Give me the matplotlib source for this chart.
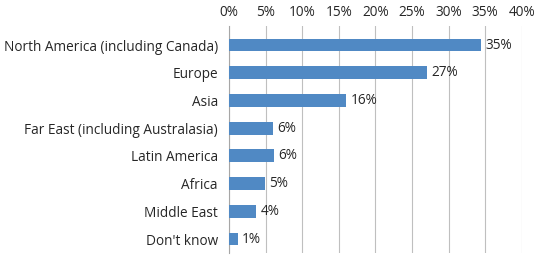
import matplotlib
matplotlib.use("Agg")
import matplotlib.pyplot as plt
from matplotlib.ticker import MultipleLocator, FuncFormatter

categories = ["North America (including Canada)", "Europe", "Asia",
              "Far East (including Australasia)", "Latin America",
              "Africa", "Middle East", "Don't know"]
values = [34.5, 27.0, 16.0, 6.0, 6.1, 4.9, 3.7, 1.2]
value_labels = ["35%", "27%", "16%", "6%", "6%", "5%", "4%", "1%"]

plt.rcParams['font.family'] = ['Open Sans', 'DejaVu Sans']

fig = plt.figure(figsize=(5.46, 2.57), dpi=100)
ax = fig.add_axes([229/546, 1-253/257, (521.7-229)/546, (253-26)/257])

y = list(range(len(categories)))
ax.barh(y, values, height=0.46, color='#5089C4', zorder=3)
for yi, v, lab in zip(y, values, value_labels):
    ax.text(v + 0.6, yi, lab, va='center', ha='left', fontsize=9.8, color='#262626', zorder=4)

ax.set_xlim(0, 40)
ax.set_ylim(7.505, -0.686)
ax.set_yticks(y)
ax.set_yticklabels(categories, fontsize=9.8, color='#262626')
ax.xaxis.set_major_locator(MultipleLocator(5))
ax.xaxis.set_major_formatter(FuncFormatter(lambda v, p: f"{int(v)}%"))
ax.xaxis.tick_top()
ax.tick_params(axis='x', length=0, labelsize=9.8, colors='#262626', pad=4)
ax.tick_params(axis='y', length=0, pad=8)
ax.grid(axis='x', color='#BFBFBF', linewidth=0.8, zorder=0)
for s in ['top', 'right', 'bottom']:
    ax.spines[s].set_visible(False)
ax.spines['left'].set_color('#A6A6A6')
ax.spines['left'].set_linewidth(0.8)

fig.savefig("out.png", dpi=100)
